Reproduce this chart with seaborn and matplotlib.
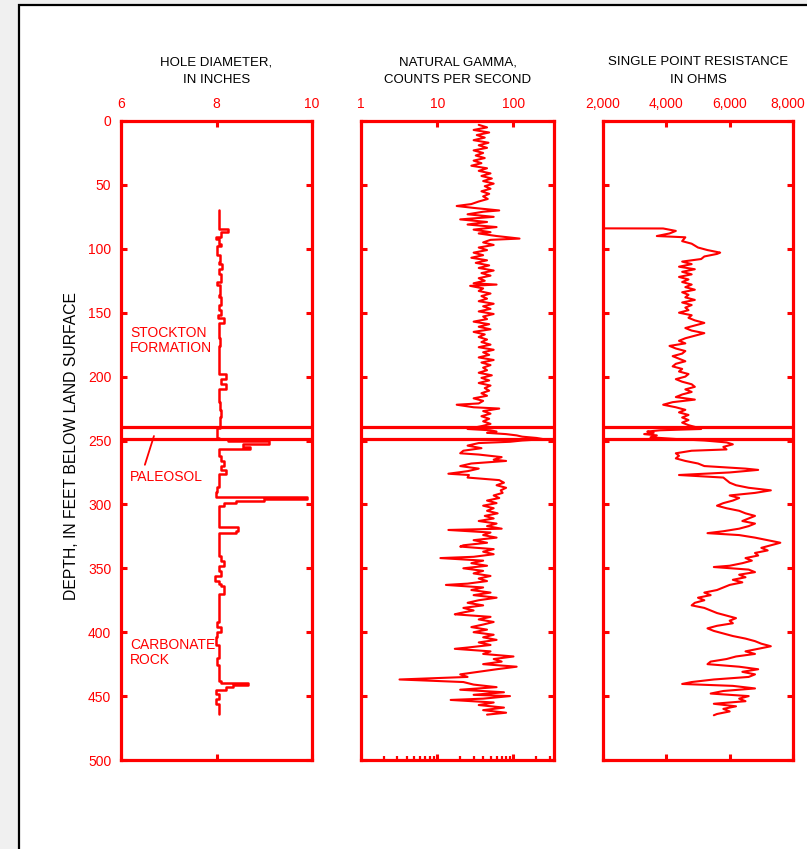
import numpy as np
import pandas as pd
import matplotlib
matplotlib.use("Agg")
import matplotlib.pyplot as plt
import seaborn as sns
from matplotlib.patches import Rectangle
from matplotlib.ticker import LogLocator, FixedLocator, NullFormatter
from matplotlib.transforms import ScaledTranslation

sns.set_style("white")
plt.rcParams["font.family"] = ["Liberation Sans", "DejaVu Sans"]

RED = "#ff0000"

# ---------------- data ----------------
caliper_depth = [70, 84, 84.5, 86, 86.5, 90, 90.5, 92, 96, 96.5, 98, 104, 104.5, 110, 112, 116, 120, 126, 128,
                 136, 138, 144, 148, 152, 154, 158, 166, 170, 176, 186, 196, 198, 202, 206, 210, 214, 220, 226,
                 232, 238, 240, 246, 248, 249, 250.5, 252, 253, 255, 256.5, 257, 262, 266, 270, 273, 276, 282,
                 286, 290, 294, 294.5, 296, 297, 299, 301, 308, 316, 318, 321, 322, 330, 340, 344, 348, 352,
                 356, 360, 362, 364, 370, 380, 386, 392, 396, 400, 404, 410, 414, 420, 426, 432, 438, 439.5,
                 441, 443, 445, 448, 452, 456, 460, 464]
caliper_in = [8.05, 8.05, 8.25, 8.25, 8.1, 8.1, 7.98, 8.05, 8.05, 8.1, 8.0, 8.0, 8.08, 8.05, 8.12, 8.06, 8.1,
              8.02, 8.08, 8.05, 8.1, 8.06, 8.1, 8.04, 8.15, 8.05, 8.05, 8.08, 8.05, 8.05, 8.05, 8.2, 8.1, 8.2,
              8.05, 8.05, 8.08, 8.1, 8.08, 8.08, 8.0, 8.0, 8.05, 8.25, 9.1, 9.1, 8.55, 8.7, 8.6, 8.05, 8.1,
              8.15, 8.1, 8.2, 8.05, 8.05, 8.0, 7.98, 8.0, 9.9, 9.0, 8.4, 8.15, 8.05, 8.05, 8.05, 8.45, 8.4,
              8.05, 8.05, 8.1, 8.15, 8.05, 8.1, 7.97, 8.05, 8.1, 8.15, 8.05, 8.05, 8.05, 8.0, 8.1, 8.02,
              7.98, 8.05, 8.05, 8.0, 8.05, 8.05, 8.1, 8.65, 8.35, 8.2, 7.98, 8.05, 7.98, 8.05, 8.05, 8.05]

gamma_depth = [3, 5, 7, 9, 11, 13, 15, 17, 19, 21, 23, 25, 27, 29, 31, 33, 35, 37, 39, 41, 43, 45, 47, 49, 51,
               53, 55, 57, 59, 61, 63, 65, 66.5, 68, 70, 71, 73, 75, 77, 79, 81, 83, 85, 87, 88, 90, 92, 93,
               95, 97, 99, 101, 103, 105, 107, 109, 111, 113, 115, 117, 119, 121, 123, 125, 127, 128, 129,
               131, 133, 135, 137, 139, 141, 143, 145, 147, 149, 151, 153, 155, 157, 159, 161, 163, 165, 167,
               169, 171, 173, 175, 177, 179, 181, 183, 185, 187, 189, 191, 193, 195, 197, 199, 201, 203, 205,
               207, 209, 211, 213, 215, 217, 219, 221, 222, 224, 225, 227, 229, 231, 233, 235, 237, 238.5,
               240, 241, 242, 243, 244, 245, 246, 247, 248, 249, 250, 251, 252, 254, 256, 258, 260, 261, 263,
               265, 266, 268, 270, 272, 274, 276, 277, 279, 281, 283, 285, 287, 289, 291, 293, 295, 297, 299,
               301, 303, 305, 307, 309, 311, 313, 315, 317, 319, 320, 322, 324, 326, 328, 330, 332, 333, 335,
               337, 339, 341, 342, 344, 346, 348, 350, 352, 354, 356, 358, 360, 362, 363, 365, 367, 369, 371,
               373, 375, 377, 379, 381, 383, 385, 386, 388, 390, 392, 394, 396, 398, 400, 402, 404, 406, 408,
               410, 412, 413, 415, 417, 419, 421, 423, 425, 427, 429, 431, 433, 435, 437, 439, 441, 443, 445,
               447, 449, 450, 452, 453, 455, 457, 459, 461, 463, 464.5]
gamma_cps = [35, 45, 30, 48, 33, 42, 30, 47, 35, 45, 30, 40, 32, 42, 30, 38, 28, 45, 35, 50, 38, 52, 40, 55, 42,
             50, 38, 48, 40, 46, 35, 28, 18, 30, 65, 40, 25, 55, 20, 45, 25, 60, 30, 50, 35, 60, 120, 50,
             40, 55, 35, 45, 30, 40, 28, 45, 32, 48, 35, 55, 38, 50, 35, 42, 30, 60, 27,
             40, 35, 50, 38, 45, 35, 55, 40, 50, 35, 55, 40, 45, 30, 48, 35, 50, 30, 42,
             35, 45, 38, 50, 35, 55, 40, 48, 35, 55, 38, 50, 40, 45, 35, 52, 38, 48, 35,
             50, 42, 48, 38, 45, 30, 40, 35, 18, 30, 65, 40, 50, 38, 48, 40, 50, 40,
             30, 25, 50, 60, 45, 80, 110, 130, 200, 250, 130, 90, 35, 25, 38, 22, 20, 35, 70,
             55, 80, 28, 20, 35, 25, 14, 26, 25, 65, 75, 60, 80, 68, 72, 55, 65, 45, 60,
             40, 55, 45, 62, 42, 55, 35, 60, 45, 70, 14, 50, 40, 60, 30, 45, 22, 20, 55,
             40, 55, 30, 11, 40, 28, 45, 22, 40, 30, 50, 35, 45, 25, 13, 40, 28, 50, 30,
             60, 35, 25, 40, 22, 30, 20, 17, 50, 35, 55, 40, 28, 45, 30, 55, 40, 60, 35,
             50, 25, 17, 50, 40, 100, 55, 70, 40, 110, 60, 35, 20, 25, 3.2, 22, 30, 60, 20,
             75, 30, 90, 40, 15, 55, 35, 75, 40, 80, 45]

res_depth = [84, 84.1, 86, 88, 90, 91, 94, 96, 99, 101, 103, 104, 106, 108, 110, 112, 114, 116, 118, 120, 122,
             124, 126, 128, 130, 132, 134, 136, 138, 140, 142, 144, 146, 148, 150, 152, 154, 156, 158, 160,
             162, 164, 166, 168, 170, 172, 174, 176, 178, 180, 182, 184, 186, 188, 190, 192, 194, 196, 198,
             200, 202, 204, 206, 208, 210, 212, 214, 216, 218, 220, 222, 224, 226, 228, 230, 232, 234, 236,
             238, 240, 241, 242, 243, 244, 245, 246, 247.5, 249, 250, 251.5, 253, 255, 257, 258, 260, 262,
             264, 266, 268, 270, 272, 273, 275, 277, 279, 281, 283, 285, 287, 289, 291, 293, 295, 297, 299,
             301, 303, 305, 307, 309, 311, 313, 315, 317, 319, 321, 322.5, 324, 326, 328, 330, 332, 334, 336,
             338, 340, 342, 344, 346, 348, 349, 351, 353, 355, 357, 359, 361, 363, 365, 367, 369, 371, 373,
             375, 377, 379, 381, 383, 385, 387, 389, 391, 393, 395, 397, 399, 401, 403, 405, 407, 409, 411,
             413, 415, 417, 419, 421, 423, 425, 427, 429, 431, 433, 435, 437, 439, 440.5, 442, 444, 446, 448,
             450, 452, 454, 456, 458, 460, 462, 464, 465]
res_ohms = [1800, 3900, 4300, 4100, 3700, 4600, 4500, 4800, 5000, 5300, 5700, 5600, 5200, 5100, 4500, 4800, 4400,
            4900, 4500, 4800, 4400, 4700, 4500, 4800, 4600, 4900, 4500, 4700, 4600, 4900, 4500, 4800, 4600,
            4700, 4400, 4800, 4700, 4900, 5200, 4900, 4600, 4800, 5200, 4900, 4600, 4400, 4600, 4100, 4300,
            4600, 4500, 4200, 4400, 4600, 4300, 4200, 4500, 4400, 4700, 4600, 4300, 4500, 4800, 4900, 4600,
            4800, 4500, 4300, 4900, 4200, 3900, 4300, 4600, 4400, 4700, 4500, 4700, 4500, 4700, 5000, 5100,
            3800, 3400, 3600, 3300, 3700, 3500, 4400, 5200, 5900, 6100, 5800, 5900, 4800, 4300, 4400, 4300,
            4600, 5000, 5200, 6500, 6900, 6000, 4400, 5800, 5900, 6000, 6200, 6600, 7300, 6800, 6000, 6300,
            6100, 5800, 5600, 5900, 6300, 6500, 6800, 6600, 6400, 6800, 6600, 6300, 5800, 5300, 6300, 6800,
            7200, 7600, 7300, 7000, 7200, 6800, 6900, 6500, 6700, 6400, 6000, 5500, 6600, 6800, 6300, 6500,
            6100, 6400, 6000, 5800, 5600, 5200, 5400, 5000, 5200, 4900, 4800, 5200, 5400, 5600, 5900, 6200,
            6000, 6100, 5600, 5300, 5500, 5800, 6100, 6500, 6800, 7000, 7300, 6900, 6500, 6800, 6200, 5900,
            5400, 5300, 6300, 6900, 6400, 6800, 6600, 5500, 4800, 4500, 6100, 6800, 5800, 5400, 6600, 6300,
            6500, 5500, 6200, 5800, 6000, 5600, 5500]

contacts = [239.5, 249]
depth_ticks = list(range(0, 501, 50))
titles = ["HOLE DIAMETER,\nIN INCHES", "NATURAL GAMMA,\nCOUNTS PER SECOND", "SINGLE POINT RESISTANCE\nIN OHMS"]
cal_ticks = [6, 8, 10]
gam_ticks = [1, 10, 100]
res_ticks = [2000, 4000, 6000, 8000]
res_labels = ["2,000", "4,000", "6,000", "8,000"]

# ---------------- figure ----------------
W, H = 807, 849
fig = plt.figure(figsize=(W / 100, H / 100), dpi=100)
fig.patch.set_facecolor("#f0f0f0")
fig.add_artist(Rectangle((19 / W, -0.02), 1.0, 1 - 5 / H + 0.02, transform=fig.transFigure,
                         facecolor="white", edgecolor="black", linewidth=1.6, zorder=-5))

def fx(px):
    return px / W

def fy(py):
    return 1 - py / H

top, bot = 121, 760
panels = [(121, 312), (361, 554), (603, 793)]
axes = []
for (l, r) in panels:
    ax = fig.add_axes([fx(l), fy(bot), fx(r - l), (bot - top) / H])
    ax.set_facecolor("none")
    axes.append(ax)

ax1, ax2, ax3 = axes
ax2.set_xscale("log")

df_cal = pd.DataFrame({"depth": caliper_depth, "val": caliper_in})
df_gam = pd.DataFrame({"depth": gamma_depth, "val": gamma_cps})
df_res = pd.DataFrame({"depth": res_depth, "val": res_ohms})

sns.lineplot(data=df_cal, x="val", y="depth", sort=False, estimator=None, ax=ax1, color=RED,
             linewidth=1.8, drawstyle="steps-pre")
sns.lineplot(data=df_gam, x="val", y="depth", sort=False, estimator=None, ax=ax2, color=RED, linewidth=1.5)
sns.lineplot(data=df_res, x="val", y="depth", sort=False, estimator=None, ax=ax3, color=RED, linewidth=1.5)

ax1.set_xlim(6, 10)
ax2.set_xlim(1, 340)
ax3.set_xlim(2000, 8000)

for ax in axes:
    ax.set_ylim(500, 0)
    ax.set_xlabel("")
    ax.set_ylabel("")
    for s in ax.spines.values():
        s.set_color(RED)
        s.set_linewidth(2.3)
        s.set_visible(True)
    ax.yaxis.set_major_locator(FixedLocator(depth_ticks))
    ax.tick_params(axis="both", which="major", direction="in", colors=RED, length=4, width=2.2,
                   top=True, bottom=True, left=True, right=True, labeltop=True, labelbottom=False,
                   labelleft=False, labelsize=10, pad=7)
    ax.tick_params(axis="y", pad=7)
    for y in contacts:
        ax.axhline(y, color=RED, linewidth=2.3, zorder=3)
    ax.grid(False)

ax1.xaxis.set_major_locator(FixedLocator(cal_ticks))
ax1.set_xticklabels([str(t) for t in cal_ticks])
ax1.tick_params(axis="y", labelleft=True)
ax1.set_yticklabels([str(t) for t in depth_ticks])

ax2.xaxis.set_major_locator(FixedLocator(gam_ticks))
ax2.set_xticklabels([str(t) for t in gam_ticks])
ax2.xaxis.set_minor_locator(LogLocator(base=10, subs=np.arange(2, 10), numticks=20))
ax2.xaxis.set_minor_formatter(NullFormatter())
ax2.tick_params(axis="x", which="minor", direction="in", colors=RED, length=3, width=1.6,
                top=False, bottom=True, labeltop=False, labelbottom=False)

ax3.xaxis.set_major_locator(FixedLocator(res_ticks))
ax3.set_xticklabels(res_labels)
# keep the last resistance label inside the picture
last = ax3.xaxis.get_major_ticks()[-1].label2
last.set_horizontalalignment("right")
last.set_transform(last.get_transform() + ScaledTranslation(12 / 100, 0, fig.dpi_scale_trans))

for lab in ax1.get_yticklabels():
    lab.set_color(RED)

# titles
for (l, r), t in zip(panels, titles):
    fig.text(fx((l + r) / 2), fy(71), t, ha="center", va="center", fontsize=9.5, color="black",
             linespacing=1.6)

fig.text(fx(72), fy(446), "DEPTH, IN FEET BELOW LAND SURFACE", rotation=90, ha="center", va="center",
         fontsize=11.3, color="black")

# annotations on caliper panel
ax1.text(6.19, 172, "STOCKTON\nFORMATION", color=RED, fontsize=10, ha="left", va="center", linespacing=1.1)
ax1.text(6.19, 278.6, "PALEOSOL", color=RED, fontsize=10, ha="left", va="center")
ax1.text(6.19, 416, "CARBONATE\nROCK", color=RED, fontsize=10, ha="left", va="center", linespacing=1.1)
ax1.plot([6.50, 6.69], [269, 246.5], color=RED, linewidth=1.3)

fig.savefig("out.png", dpi=100, facecolor=fig.get_facecolor())
